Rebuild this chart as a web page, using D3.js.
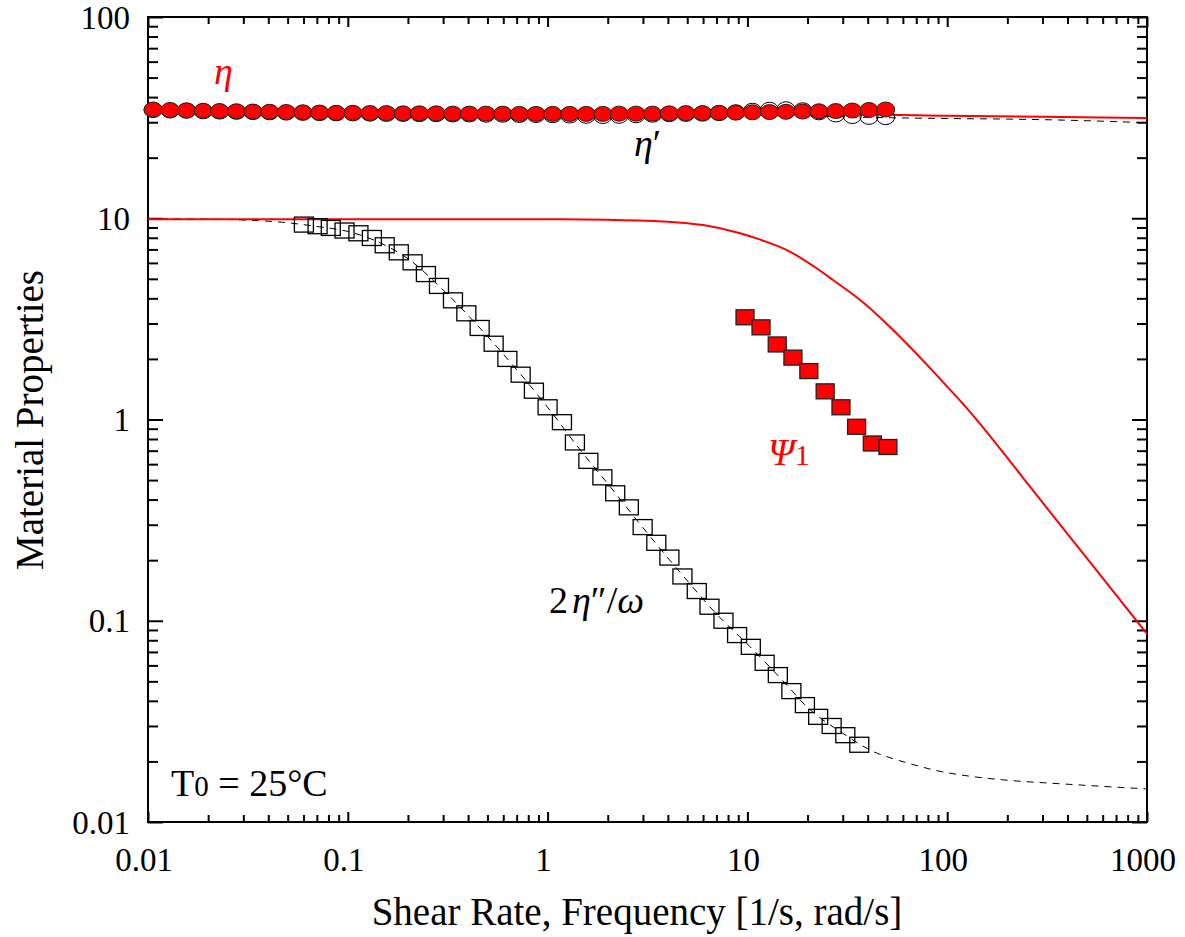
<!DOCTYPE html>
<html>
<head>
<meta charset="utf-8">
<script src="https://cdn.jsdelivr.net/npm/d3@7"></script>
<style>
  body { margin: 0; background: #fff; }
  svg text { font-family: "Liberation Serif", "Times New Roman", serif; }
</style>
</head>
<body>
<svg id="chart" width="1185" height="937"></svg>
<script>
// eta (red filled circles) and eta' (open circles), same frequencies
const etaX = [0.0106, 0.0129, 0.0156, 0.0189, 0.0228, 0.0277, 0.0335, 0.0406, 0.0492, 0.0596, 0.0722, 0.0875,
  0.106, 0.129, 0.156, 0.189, 0.228, 0.277, 0.335, 0.406, 0.492, 0.596, 0.722, 0.875,
  1.06, 1.29, 1.56, 1.89, 2.28, 2.77, 3.35, 4.06, 4.92, 5.96, 7.22, 8.75,
  10.6, 12.9, 15.6, 18.9, 22.8, 27.7, 33.5, 40.6, 49.2];
const etaY = [34.7, 34.5, 34.4, 34.2, 34.1, 34.0, 33.9, 33.8, 33.7, 33.6, 33.5, 33.4,
  33.4, 33.3, 33.3, 33.2, 33.2, 33.2, 33.1, 33.1, 33.1, 33.1, 33.0, 33.0,
  33.0, 33.0, 33.0, 33.0, 33.1, 33.1, 33.1, 33.2, 33.3, 33.3, 33.4, 33.5,
  33.6, 33.7, 33.8, 33.9, 34.0, 34.1, 34.3, 34.5, 34.7];
const etaPrimeY = [34.5, 34.3, 34.2, 34.0, 33.9, 33.8, 33.7, 33.6, 33.5, 33.4, 33.3, 33.2,
  33.2, 33.1, 33.0, 33.0, 32.9, 32.9, 32.8, 32.8, 32.7, 32.7, 32.6, 32.6,
  32.5, 32.4, 32.3, 32.2, 32.3, 32.5, 32.7, 32.9, 33.0, 33.1, 33.3, 33.6,
  34.2, 34.6, 34.8, 34.4, 33.6, 32.8, 32.2, 31.9, 31.8];

// 2 eta'' / omega (open squares)
const eta2X = [0.0603, 0.0706, 0.0822, 0.0963, 0.113, 0.132, 0.153, 0.180, 0.211, 0.246, 0.286, 0.336,
  0.392, 0.457, 0.537, 0.629, 0.733, 0.854, 1.00, 1.18, 1.37, 1.60, 1.88, 2.18, 2.55, 2.99, 3.50,
  4.07, 4.73, 5.58, 6.46, 7.59, 8.88, 10.4, 12.2, 14.2, 16.6, 19.4, 22.6, 26.4, 30.9, 36.3];
const eta2Y = [9.30, 9.13, 8.95, 8.69, 8.42, 7.98, 7.34, 6.77, 6.04, 5.28, 4.61, 3.91,
  3.37, 2.85, 2.38, 2.00, 1.67, 1.39, 1.15, 0.970, 0.769, 0.623, 0.516, 0.430, 0.366, 0.292, 0.244,
  0.206, 0.166, 0.1405, 0.1174, 0.100, 0.0849, 0.0742, 0.0618, 0.0537, 0.0447, 0.0381, 0.0333, 0.0300, 0.0270, 0.0242];

// Psi1 (red squares)
const psiX = [9.73, 11.7, 14.1, 16.9, 20.3, 24.5, 29.4, 35.2, 42.2, 50.5];
const psiY = [3.22, 2.87, 2.36, 2.03, 1.74, 1.38, 1.15, 0.92, 0.76, 0.73];

// model curves
const etaModelX = [0.01, 0.1, 1, 10, 40, 100, 300, 1000];
const etaModelY = [34.6, 33.6, 33.0, 32.9, 32.8, 32.3, 31.9, 31.5];
const etaPrimeModelX = [0.01, 0.1, 1, 10, 50, 100, 200, 400, 700, 1000];
const etaPrimeModelY = [34.2, 33.4, 32.9, 32.5, 31.6, 31.3, 31.1, 30.7, 30.2, 29.8];
const eta2ModelX = [0.01, 0.02, 0.03, 0.05, 0.07, 0.1, 0.15, 0.2, 0.3, 0.5, 0.7, 1, 1.5, 2, 3, 5, 7,
  10, 15, 20, 30, 43, 53, 65, 91, 129, 204, 363, 1000];
const eta2ModelY = [9.95, 9.9, 9.8, 9.5, 9.1, 8.6, 7.43, 6.3, 4.4, 2.59, 1.77, 1.15, 0.68, 0.48, 0.29, 0.158, 0.108,
  0.0766, 0.0505, 0.0371, 0.0276, 0.0223, 0.0207, 0.0195, 0.0179, 0.0169, 0.0161, 0.0155, 0.0146];
const psiModelX = [0.01, 0.1, 1, 2, 4, 6, 9.1, 11.5, 16.2, 22.1, 26.7, 39.2, 53.3, 91.2, 134, 186, 248, 533, 1000];
const psiModelY = [9.9, 9.9, 9.88, 9.82, 9.62, 9.25, 8.45, 7.85, 6.85, 5.66, 4.95, 3.72, 2.80, 1.61, 1.055, 0.707, 0.491, 0.189, 0.086];

const xTicks = [0.01, 0.1, 1, 10, 100, 1000];
const xTickLabels = ["0.01", "0.1", "1", "10", "100", "1000"];
const yTicks = [0.01, 0.1, 1, 10, 100];
const yTickLabels = ["0.01", "0.1", "1", "10", "100"];

const zip = (xs, ys) => xs.map((v, i) => ({ x: v, y: ys[i] }));

var svg = d3.select("#chart");
var plotLeft = 148, plotRight = 1147, plotTop = 17, plotBottom = 822;

var x = d3.scaleLog().domain([0.01, 1000]).range([plotLeft, plotRight]);
var y = d3.scaleLog().domain([0.01, 100]).range([plotBottom, plotTop]);

svg.append("defs").append("clipPath").attr("id", "plotClip")
  .append("rect").attr("x", plotLeft).attr("y", plotTop)
  .attr("width", plotRight - plotLeft).attr("height", plotBottom - plotTop);

var minorX = x.ticks().filter(d => !xTicks.includes(d));
var minorY = y.ticks().filter(d => !yTicks.includes(d));

// ticks, all pointing inward
function tickAxis(axisFn, scale, values, size, tx, ty) {
  var g = svg.append("g").attr("transform", "translate(" + tx + "," + ty + ")")
    .call(axisFn(scale).tickValues(values).tickSize(size).tickFormat(""));
  g.select(".domain").remove();
  g.selectAll(".tick line").attr("stroke", "#000").attr("stroke-width", 2);
  return g;
}
tickAxis(d3.axisBottom, x, minorX, -7, 0, plotBottom);
tickAxis(d3.axisBottom, x, xTicks, -10, 0, plotBottom);
tickAxis(d3.axisTop, x, minorX, -7, 0, plotTop);
tickAxis(d3.axisTop, x, xTicks, -10, 0, plotTop);
tickAxis(d3.axisLeft, y, minorY, -10, plotLeft, 0);
tickAxis(d3.axisLeft, y, yTicks, -15, plotLeft, 0);
tickAxis(d3.axisRight, y, minorY, -10, plotRight, 0);
tickAxis(d3.axisRight, y, yTicks, -15, plotRight, 0);

svg.append("rect")
  .attr("x", plotLeft).attr("y", plotTop)
  .attr("width", plotRight - plotLeft).attr("height", plotBottom - plotTop)
  .attr("fill", "none").attr("stroke", "#000").attr("stroke-width", 2);

// tick labels
svg.append("g").selectAll("text").data(xTicks).enter().append("text")
  .attr("x", d => x(d) - 4)
  .attr("y", 871)
  .attr("text-anchor", "middle")
  .attr("font-size", "33px")
  .text((d, i) => xTickLabels[i]);

svg.append("g").selectAll("text").data(yTicks).enter().append("text")
  .attr("x", 130)
  .attr("y", d => y(d))
  .attr("dy", "0.35em")
  .attr("text-anchor", "end")
  .attr("font-size", "33px")
  .text((d, i) => yTickLabels[i]);

// axis titles
svg.append("text")
  .attr("x", 637).attr("y", 925)
  .attr("text-anchor", "middle")
  .attr("font-size", "39px")
  .text("Shear Rate, Frequency [1/s, rad/s]");

svg.append("text")
  .attr("transform", "translate(43,420) rotate(-90)")
  .attr("text-anchor", "middle")
  .attr("font-size", "39px")
  .text("Material Properties");

var line = d3.line().x(d => x(d.x)).y(d => y(d.y)).curve(d3.curveMonotoneX);
var plot = svg.append("g");
var clipped = plot.append("g").attr("clip-path", "url(#plotClip)");

// red eta model (under the markers)
clipped.append("path").datum(zip(etaModelX, etaModelY))
  .attr("d", line).attr("fill", "none").attr("stroke", "#ff0000").attr("stroke-width", 2);

// eta' open circles
plot.append("g").selectAll("ellipse").data(zip(etaX, etaPrimeY)).enter().append("ellipse")
  .attr("cx", d => x(d.x)).attr("cy", d => y(d.y))
  .attr("rx", 9).attr("ry", 7.5)
  .attr("fill", "none").attr("stroke", "#000").attr("stroke-width", 1);

// eta red circles
plot.append("g").selectAll("ellipse").data(zip(etaX, etaY)).enter().append("ellipse")
  .attr("cx", d => x(d.x)).attr("cy", d => y(d.y))
  .attr("rx", 9).attr("ry", 7.5)
  .attr("fill", "#ff0000").attr("stroke", "#222").attr("stroke-width", 1);

// dashed model lines
clipped.append("path").datum(zip(etaPrimeModelX, etaPrimeModelY))
  .attr("d", line).attr("fill", "none").attr("stroke", "#000")
  .attr("stroke-width", 1).attr("stroke-dasharray", "7,6");
clipped.append("path").datum(zip(eta2ModelX, eta2ModelY))
  .attr("d", line).attr("fill", "none").attr("stroke", "#000")
  .attr("stroke-width", 1).attr("stroke-dasharray", "7,6");

// 2eta''/omega open squares
plot.append("g").selectAll("rect").data(zip(eta2X, eta2Y)).enter().append("rect")
  .attr("x", d => x(d.x) - 9.5).attr("y", d => y(d.y) - 7.5)
  .attr("width", 19).attr("height", 15)
  .attr("fill", "none").attr("stroke", "#000").attr("stroke-width", 1.3);

// Psi1 model
clipped.append("path").datum(zip(psiModelX, psiModelY))
  .attr("d", line).attr("fill", "none").attr("stroke", "#ff0000").attr("stroke-width", 2);

// Psi1 red squares
plot.append("g").selectAll("rect").data(zip(psiX, psiY)).enter().append("rect")
  .attr("x", d => x(d.x) - 9).attr("y", d => y(d.y) - 7.5)
  .attr("width", 18).attr("height", 15)
  .attr("fill", "#ff0000").attr("stroke", "#222").attr("stroke-width", 1.3);

// annotations
svg.append("text").attr("x", 214).attr("y", 84)
  .attr("font-size", "38px").attr("font-style", "italic").attr("fill", "#ff0000")
  .text("η");

svg.append("text").attr("x", 634).attr("y", 156)
  .attr("font-size", "38px").attr("fill", "#000")
  .call(t => {
    t.append("tspan").attr("font-style", "italic").text("η");
    t.append("tspan").text("′");
  });

svg.append("text").attr("x", 549).attr("y", 613)
  .attr("font-size", "38px").attr("fill", "#000")
  .call(t => {
    t.append("tspan").text("2");
    t.append("tspan").attr("dx", 4).attr("font-style", "italic").text("η");
    t.append("tspan").text("″/");
    t.append("tspan").attr("font-style", "italic").text("ω");
  });

svg.append("text").attr("x", 768).attr("y", 465)
  .attr("font-size", "38px").attr("fill", "#ff0000")
  .call(t => {
    t.append("tspan").attr("font-style", "italic").text("Ψ");
    t.append("tspan").attr("font-size", "30px").text("1");
  });

svg.append("text").attr("x", 171).attr("y", 796)
  .attr("font-size", "38px").attr("fill", "#000")
  .call(t => {
    t.append("tspan").text("T");
    t.append("tspan").attr("font-size", "29px").text("0");
    t.append("tspan").text(" = 25°C");
  });
</script>
</body>
</html>
